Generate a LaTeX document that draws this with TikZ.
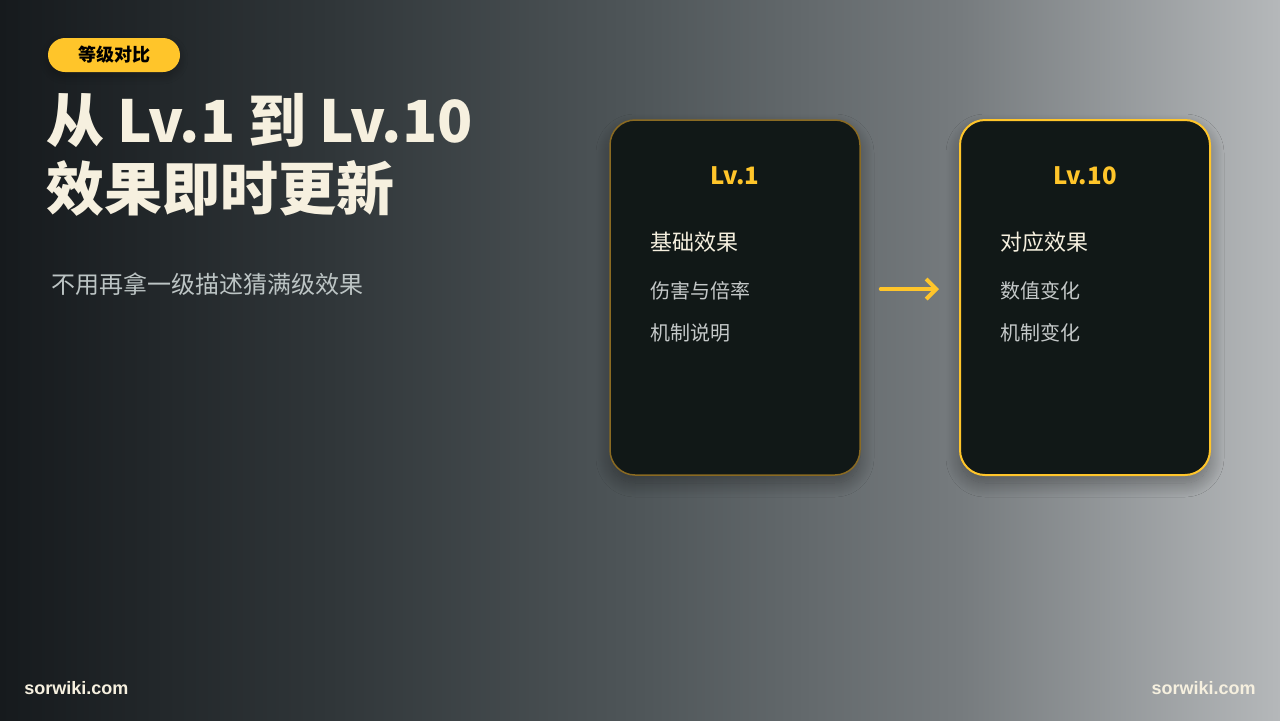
\documentclass[tikz,border=0pt]{standalone}
\usepackage{fontspec}
\setmainfont{Noto Sans CJK SC}
\newfontfamily\webfont{Liberation Sans}
\usetikzlibrary{arrows.meta,shadows.blur}
\definecolor{gold}{HTML}{FFC52A}
\definecolor{darkgold}{HTML}{8A6A22}
\definecolor{cream}{HTML}{F6F0DF}
\definecolor{cardbg}{HTML}{111817}
\definecolor{itemgray}{HTML}{C4C8C8}
\definecolor{subgray}{HTML}{BCC4C4}
\definecolor{bgA}{HTML}{161A1D}
\definecolor{bgB}{HTML}{2F3538}
\definecolor{bgC}{HTML}{4F5659}
\definecolor{bgD}{HTML}{767B7E}
\definecolor{bgE}{HTML}{B5B8BA}
\pgfdeclarehorizontalshading{bgshade}{100bp}{color(0bp)=(bgA); color(25bp)=(bgA); color(37.5bp)=(bgB); color(50bp)=(bgC); color(62.5bp)=(bgD); color(75bp)=(bgE); color(100bp)=(bgE)}
\tikzset{
	card/.style={rounded corners=12.5pt, fill=cardbg, minimum width=125pt, minimum height=177.5pt,
		blur shadow={shadow xshift=0pt, shadow yshift=-4pt, shadow blur radius=7pt,
			shadow blur steps=25, shadow opacity=35}},
	cardtitle/.style={text=gold, font=\bfseries\fontsize{12}{14}\selectfont},
	cardhead/.style={anchor=west, inner sep=0pt, text=cream, font=\fontsize{11}{13}\selectfont},
	carditem/.style={anchor=west, inner sep=0pt, text=itemgray, font=\fontsize{10}{12}\selectfont},
	site/.style={text=cream, inner sep=0pt, font=\webfont\bfseries\fontsize{9}{11}\selectfont}
}
\begin{document}
\begin{tikzpicture}[x=0.5pt, y=-0.5pt, line join=round, line cap=round]
	\shade[shading=bgshade] (0,0) rectangle (1280,720);
	\useasboundingbox (0,0) rectangle (1280,720);
	% badge and title
	\node[fill=gold, rounded corners=8.5pt, minimum width=66pt, minimum height=17pt, inner sep=0pt,
		font=\bfseries\fontsize{9}{11}\selectfont, text=black,
		blur shadow={shadow xshift=0pt, shadow yshift=-2pt, shadow blur radius=4pt,
			shadow blur steps=15, shadow opacity=25}]
		(tag) at (114,55) {等级对比};
	\foreach \t/\y [count=\i] in {从 Lv.1 到 Lv.10/142, 效果即时更新/210}
		\node[anchor=base west, inner sep=0pt, text=cream, font=\bfseries\fontsize{29}{34}\selectfont]
			(title\i) at (46,\y) {\t};
	\node[anchor=west, inner sep=0pt, text=subgray, font=\fontsize{12}{14}\selectfont]
		(sub) at (51,284) {不用再拿一级描述猜满级效果};
	% cards
	\node[card, draw=darkgold, line width=0.75pt] (lvA) at (735,297.5) {};
	\node[card, draw=gold, line width=1pt] (lvB) at (1085,297.5) {};
	\node[cardtitle] (lvAname) at (735,176) {Lv.1};
	\node[cardtitle] (lvBname) at (1085,176) {Lv.10};
	\node[cardhead] (lvAhead) at (650,242) {基础效果};
	\node[cardhead] (lvBhead) at (1000,242) {对应效果};
	\foreach \t/\y [count=\i] in {伤害与倍率/291, 机制说明/333}
		\node[carditem] (lvAitem\i) at (650,\y) {\t};
	\foreach \t/\y [count=\i] in {数值变化/291, 机制变化/333}
		\node[carditem] (lvBitem\i) at (1000,\y) {\t};
	\draw[gold, line width=2pt, -{Straight Barb[length=5pt, width=10pt, line width=2pt]}]
		([shift={(20,-8.5)}]lvA.east) -- ([shift={(-20,-8.5)}]lvB.west);
	% footer
	\node[site, anchor=west] (siteL) at (24,688) {sorwiki.com};
	\node[site, anchor=east] (siteR) at (1256,688) {sorwiki.com};
\end{tikzpicture}
\end{document}
